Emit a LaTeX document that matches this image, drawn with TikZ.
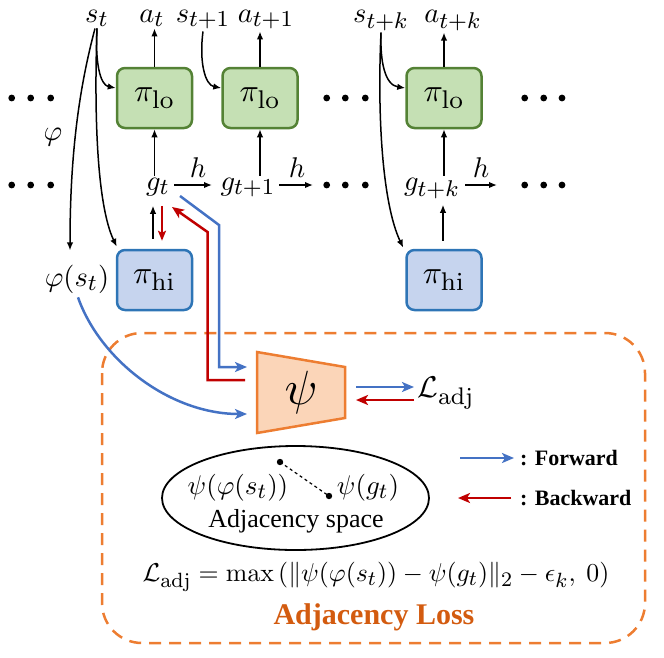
\RequirePackage{fix-cm}
\documentclass[tikz,border=0pt]{standalone}
\usepackage[no-math]{fontspec}
\usepackage{graphicx}
\setmainfont{Liberation Serif}
\newfontfamily\tnr{Liberation Serif}
\usetikzlibrary{arrows.meta,calc,shapes.geometric}
\DeclareMathSizes{10}{10}{8}{6}

\definecolor{gF}{HTML}{C5E0B4}
\definecolor{gB}{HTML}{548235}
\definecolor{bF}{HTML}{C6D4EE}
\definecolor{bB}{HTML}{2E75B6}
\definecolor{fw}{HTML}{4472C4}
\definecolor{bw}{HTML}{C00000}
\definecolor{oB}{HTML}{ED7D31}
\definecolor{oF}{HTML}{FBD5B8}
\definecolor{oT}{HTML}{D35B0F}

\newcommand{\fsz}[1]{\fontsize{#1}{#1}\selectfont}
\newcommand{\M}[1]{\scalebox{2.85}{#1}}
\newcommand{\Mx}[2]{\scalebox{#1}{#2}}

\begin{document}
\begin{tikzpicture}[x=1pt,y=-1pt,
  pol/.style={rounded corners=8pt, line width=2.5pt, minimum width=75pt, minimum height=60pt, inner sep=0pt},
  lo/.style={pol, draw=gB, fill=gF},
  hi/.style={pol, draw=bB, fill=bF},
  lab/.style={inner sep=2pt},
  arr/.style={line width=1.5pt, -{Latex[length=8pt,width=6.5pt]}},
  fwd/.style={draw=fw, line width=2.5pt, -{Stealth[length=12pt,width=10pt,inset=3pt]}},
  bwd/.style={draw=bw, line width=2.5pt, -{Stealth[length=12pt,width=10pt,inset=3pt]}},
]
\useasboundingbox (0,0) rectangle (664,657);

% dashed loss box
\draw[oB, line width=2.5pt, dash pattern=on 12pt off 8pt, rounded corners=40pt] (102,333) rectangle (645,643);

% policy boxes
\node[lo] (lo1) at (154.5,98) {\Mx{3.2}{$\pi_{\mathrm{lo}}$}};
\node[lo] (lo2) at (260,98) {\Mx{3.2}{$\pi_{\mathrm{lo}}$}};
\node[lo] (lo3) at (444,98) {\Mx{3.2}{$\pi_{\mathrm{lo}}$}};
\node[hi] (hi1) at (154.5,280) {\Mx{3.2}{$\pi_{\mathrm{hi}}$}};
\node[hi] (hi3) at (444,280) {\Mx{3.2}{$\pi_{\mathrm{hi}}$}};

% top labels
\node[lab, anchor=base] (st)  at (97,22)  {\M{$s_t$}};
\node[lab, anchor=base] (at)  at (152,22) {\M{$a_t$}};
\node[lab, anchor=base] (st1) at (203,22) {\M{$s_{t+1}$}};
\node[lab, anchor=base] (at1) at (266,22) {\M{$a_{t+1}$}};
\node[lab, anchor=base] (stk) at (381,22) {\M{$s_{t+k}$}};
\node[lab, anchor=base] (atk) at (453,22) {\M{$a_{t+k}$}};

% goals
\node[lab, anchor=base] (gt)  at (158,190) {\M{$g_t$}};
\node[lab, anchor=base] (gt1) at (248,190) {\M{$g_{t+1}$}};
\node[lab, anchor=base] (gtk) at (432,190) {\M{$g_{t+k}$}};
\node[lab, anchor=base] (phis) at (77,286) {\M{$\varphi(s_t)$}};

% dots
\foreach \x in {11.7,30.7,50.7,326.7,345.3,365.3,524.7,543.7,562}{
  \fill (\x,98) circle (3.4);
  \fill (\x,185) circle (3.4);
}

% actions
\draw[arr] (lo1.north) -- (lo1.north |- at.south);
\draw[arr] (lo2.north) -- (lo2.north |- at1.south);
\draw[arr] (lo3.north) -- (lo3.north |- atk.south);

% goal -> lo
\draw[arr] (gt.north -| lo1) -- (lo1.south);
\draw[arr] (gt1.north -| lo2) -- (lo2.south);
\draw[arr] (gtk.north -| lo3) -- (lo3.south);

% h transitions
\coordinate (h1s) at (174,185);
\coordinate (h1e) at (212,185);
\coordinate (h2s) at (279,185);
\coordinate (h2e) at (313,185);
\coordinate (h3s) at (465,185);
\coordinate (h3e) at (497,185);
\draw[arr] (h1s) -- (h1e);
\draw[arr] (h2s) -- (h2e);
\draw[arr] (h3s) -- (h3e);
\node[lab] (h1) at (198,168) {\M{$h$}};
\node[lab] (h2) at (297,168) {\M{$h$}};
\node[lab] (h3) at (481,168) {\M{$h$}};

% hi -> g
\draw[arr] ($(hi1.north)+(-1.5,-10)$) -- ($(hi1.north)+(-1.5,-43)$);
\draw[bw, line width=2.2pt, -{Stealth[length=10pt,width=8pt,inset=2pt]}] ($(hi1.north)+(7.5,-43)$) -- ($(hi1.north)+(7.5,-8)$);
\draw[arr] ($(hi3.north)+(-1,-8)$) -- ($(hi3.north)+(-1,-44)$);

% state arrows
\draw[arr] (st.south) .. controls (95,62) and (100,85) .. ($(lo1.west)+(0,-10)$);
\draw[arr] (st.south) .. controls (94,115) and (97,205) .. ($(hi1.north west)+(1,-2)$);
\draw[arr] ($(st.south)+(-2,0)$) .. controls (80,85) and (70,150) .. ($(phis.north)+(-7,-12)$);
\node[lab] (phi) at (53,137) {\M{$\varphi$}};
\draw[arr] (st1.south) .. controls (199,62) and (205,85) .. ($(lo2.west)+(0,-10)$);
\draw[arr] (stk.south) .. controls (380,62) and (385,85) .. ($(lo3.west)+(0,-10)$);
\draw[arr] (stk.south) .. controls (377,120) and (383,205) .. ($(hi3.north west)+(-2,-1)$);

% psi trapezoid
\coordinate (p1) at (257,352);
\coordinate (p2) at (345,367);
\coordinate (p3) at (345,418);
\coordinate (p4) at (257,433);
\draw[oB, fill=oF, line width=2.5pt, line join=miter] (p1) -- (p2) -- (p3) -- (p4) -- cycle;
\node (psi) at (301,392) {\Mx{4.8}{$\psi$}};

% forward / backward paths
\coordinate (fa) at (180,196);
\coordinate (fin) at (247,367);
\draw[fwd] (fa) -- (219,225) -- (219,367) -- (fin);
\coordinate (bout) at (245,380);
\coordinate (bin) at (172,207);
\draw[bwd] (bout) -- (207.5,380) -- (207.5,232) -- (bin);
\coordinate (arcin) at (247,414);
\draw[fwd] ($(phis.south)+(1,2)$) .. controls (100,360) and (170,414) .. (arcin);

% loss
\node[anchor=west] (ladj) at (414,393) {\Mx{3.0}{$\mathcal{L}_{\mathrm{adj}}$}};
\draw[fwd] (356,387) -- (ladj.west |- 0,387);
\draw[bwd] (ladj.west |- 0,400) -- (356,400);

% legend
\coordinate (lf1) at (460,458);
\coordinate (lf2) at (514,458);
\coordinate (lb1) at (511,498);
\coordinate (lb2) at (458,498);
\draw[fwd] (lf1) -- (lf2);
\draw[bwd] (lb1) -- (lb2);
\node[anchor=west, font=\tnr\fsz{22}\bfseries, inner sep=0pt] (lfw) at (520,458) {: Forward};
\node[anchor=west, font=\tnr\fsz{22}\bfseries, inner sep=0pt] (lbw) at (520,498) {: Backward};

% adjacency space
\node[draw, line width=1.8pt, ellipse, minimum width=267pt, minimum height=104pt, inner sep=0pt] (ell) at (295.5,498) {};
\fill (280,462) circle (3.2);
\fill (329,496) circle (3.2);
\draw[dashed, line width=1.2pt] (280,462) -- (329,496);
\node (pps) at (238,488) {\Mx{2.7}{$\psi(\varphi(s_t))$}};
\node (pg) at (368,488) {\Mx{2.7}{$\psi(g_t)$}};
\node[font=\tnr\fsz{26}] (adjs) at (296,521) {Adjacency space};

% equation
\node (eq) at (376,577) {\Mx{2.58}{$\mathcal{L}_{\mathrm{adj}} = \max\left(\|\psi(\varphi(s_t)) - \psi(g_t)\|_2 - \epsilon_k,\ 0\right)$}};
\node[font=\tnr\fsz{30}\bfseries, text=oT] (title) at (374,617) {Adjacency Loss};
\end{tikzpicture}
\end{document}
